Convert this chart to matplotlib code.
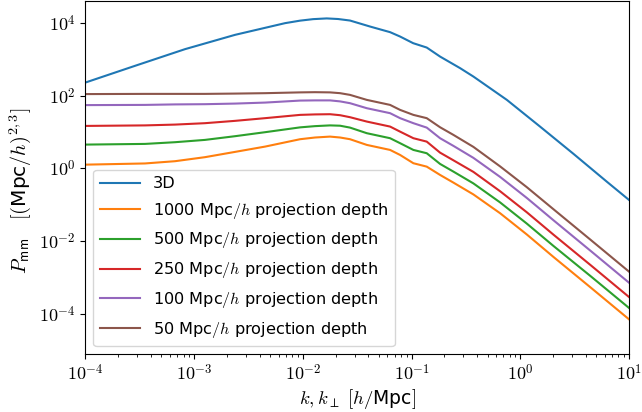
import numpy as np
import matplotlib
matplotlib.use("Agg")
import matplotlib.pyplot as plt
from matplotlib.ticker import FixedLocator, FuncFormatter, NullLocator, LogLocator

plt.rcParams['mathtext.fontset'] = 'cm'
plt.rcParams['font.family'] = ['DejaVu Sans']
plt.rcParams['font.size'] = 12

# 3D power spectrum
k_3d = [1e-4, 2.86e-4, 8.26e-4, 2.38e-3, 6.87e-3, 9.44e-3, 0.01245, 0.0166, 0.02113,
        0.0272, 0.0416, 0.0635, 0.0785, 0.1035, 0.138, 0.183, 0.280, 0.371, 0.753,
        1.52, 3.09, 6.26, 10.0]
P_3d = [231, 667, 1923, 4760, 10000, 11720, 12900, 13500, 13000,
        11800, 8060, 5650, 4280, 2810, 2130, 1202, 576, 338, 77.1,
        14.2, 2.51, 0.430, 0.1356]

# projected spectra
k_proj = [1e-4, 3.54e-4, 6.68e-4, 1.26e-3, 2.38e-3, 4.50e-3, 9.44e-3, 0.01297,
          0.0178, 0.02203, 0.0272, 0.0388, 0.0635, 0.0785, 0.104, 0.138, 0.183,
          0.243, 0.371, 0.653, 1.148, 2.02, 4.47, 10.0]
P_1000 = [1.27, 1.37, 1.58, 2.04, 2.85, 3.99, 6.37, 7.1,
          7.52, 7.1, 6.37, 4.44, 3.23, 2.35, 1.39, 1.12, 0.662,
          0.406, 0.192, 0.0583, 0.0152, 3.65e-3, 5.17e-4, 7.01e-5]
P_500 = [4.53, 4.73, 5.27, 6.10, 7.71, 9.94, 13.5, 14.6,
         15.3, 15.0, 13.3, 9.33, 6.79, 4.95, 3.23, 2.62, 1.33,
         0.816, 0.386, 0.1157, 0.0303, 7.33e-3, 1.06e-3, 1.44e-4]
P_250 = [14.8, 15.3, 16.1, 17.6, 20.4, 24.2, 29.8, 30.7,
         31.1, 29.2, 25.7, 19.5, 14.2, 10.3, 6.79, 5.47, 2.72,
         1.67, 0.801, 0.235, 0.0621, 0.0150, 2.13e-3, 2.88e-4]
P_100 = [55.4, 56.1, 57.9, 58.7, 61.0, 65.0, 73.8, 74.7,
         74.7, 70.1, 62.5, 45.5, 33.2, 24.2, 17.6, 13.3, 6.79,
         4.17, 1.95, 0.583, 0.154, 0.0374, 5.27e-3, 7.14e-4]
P_50 = [111.4, 112.8, 112.8, 112.8, 115.0, 118.0, 124.1, 125.7,
        124.1, 118.0, 105.9, 77.1, 56.1, 40.9, 29.8, 24.2, 13.6,
        8.37, 3.91, 1.135, 0.305, 0.0752, 0.0106, 1.44e-3]

depths = ['1000', '500', '250', '100', '50']
proj_series = [P_1000, P_500, P_250, P_100, P_50]

fig = plt.figure(figsize=(6.42, 4.12), dpi=100)
ax = fig.add_axes([85.3/642, 58/412, (629-85.3)/642, (354-1)/412])

ax.loglog(k_3d, P_3d, label='3D')
for d, P in zip(depths, proj_series):
    ax.loglog(k_proj, P, label=d + r' Mpc$/h$ projection depth')

ax.set_xlim(1e-4, 10)
ax.set_ylim(10**-5.11, 10**4.61)

fmt = FuncFormatter(lambda v, p: r'$10^{%d}$' % int(round(np.log10(v))))
ax.xaxis.set_major_locator(FixedLocator([1e-4, 1e-3, 1e-2, 1e-1, 1e0, 1e1]))
ax.xaxis.set_major_formatter(fmt)
ax.xaxis.set_minor_locator(LogLocator(base=10, subs=np.arange(2, 10), numticks=20))
ax.yaxis.set_major_locator(FixedLocator([1e-4, 1e-2, 1e0, 1e2, 1e4]))
ax.yaxis.set_major_formatter(fmt)
ax.yaxis.set_minor_locator(NullLocator())
ax.tick_params(labelsize=13)

ax.set_xlabel(r'$k, k_{\perp}\ [h/$Mpc$]$', fontsize=13.5, labelpad=2)
ax.set_ylabel(r'$P_{\mathsf{mm}}\quad [($Mpc$/h)^{2,3}]$', fontsize=14.5)
ax.yaxis.label.set_y(0.462)
ax.legend(loc='lower left', fontsize=11.6, handlelength=2.5, labelspacing=0.6)

fig.savefig('out.png', dpi=100)
